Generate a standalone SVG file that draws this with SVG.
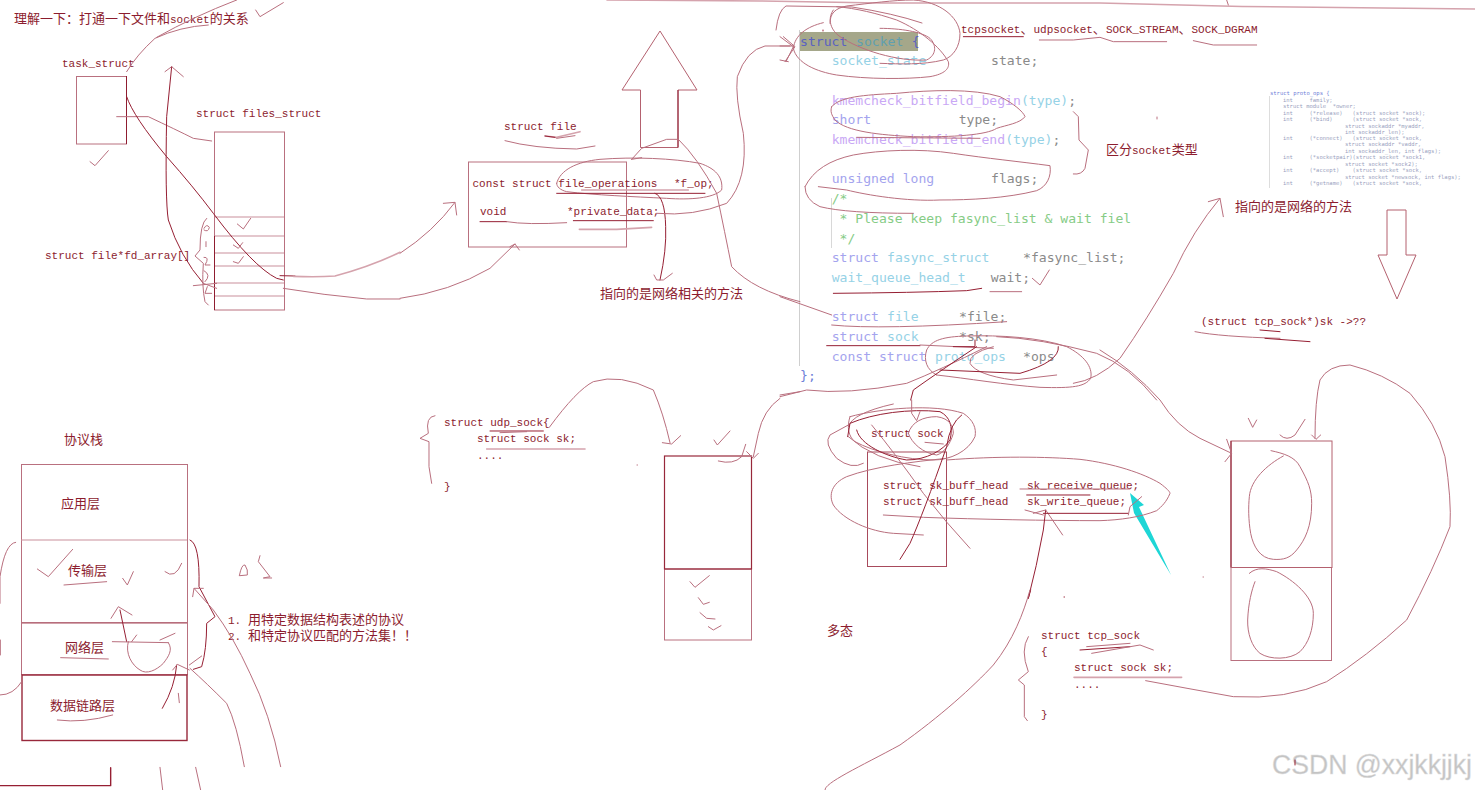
<svg xmlns="http://www.w3.org/2000/svg" width="1475" height="790" viewBox="0 0 1475 790">
<style>
text{white-space:pre}
.m{font-family:"Liberation Mono","DejaVu Sans Mono",monospace;font-size:11px;fill:#8c1c2e}
.c{font-family:"Noto Sans CJK SC","Noto Sans",sans-serif;font-size:13px;fill:#8c1c2e}
.k{font-family:"DejaVu Sans Mono",monospace;font-size:13.1px;fill:#8a8a8a}
.kw{fill:#a4a4ee}.ty{fill:#96d2e6}.fn{fill:#c9a8f5}.cm{fill:#86cc86}
.p{font-family:"DejaVu Sans Mono",monospace;font-size:5.5px;fill:#9a9fbe}
.b{fill:none;stroke:#b9707f;stroke-width:1}
.l{stroke:#c98f9b;stroke-width:1;fill:none}
path{fill:none;stroke:#b96f7e;stroke-width:1;stroke-linejoin:round;stroke-linecap:round;vector-effect:non-scaling-stroke}
path.h{stroke:#d5a3ad;stroke-width:1.6}
path.r{stroke:#961f33;stroke-width:1}
polygon.a{fill:#fff;stroke:#b4616f;stroke-width:1}
</style>
<rect width="1475" height="790" fill="#fff"/>

<g id="title"><text class="c" x="14" y="23">理解一下：打通一下文件和<tspan class="m">socket</tspan>的关系</text></g>
<g id="task-struct"><text class="m" x="62" y="67">task_struct</text><rect class="b" x="76.5" y="76.5" width="50" height="67.5"/><line x1="126.5" y1="76" x2="126.5" y2="144" stroke="#8f1d30"/></g>
<g id="files-struct"><text class="m" x="196" y="117">struct files_struct</text><rect class="b" x="214.5" y="132" width="70" height="178"/>
<line class="l" x1="215" y1="217" x2="284" y2="217"/><line class="l" x1="215" y1="236" x2="284" y2="236"/><line class="l" x1="215" y1="253" x2="284" y2="253"/><line class="l" x1="215" y1="266" x2="284" y2="266"/><line class="l" x1="215" y1="283" x2="284" y2="283"/><line class="l" x1="215" y1="296" x2="284" y2="296"/>
<line x1="214.5" y1="236" x2="214.5" y2="310" stroke="#8f1d30"/></g>
<g id="fd-array"><text class="m" x="45" y="259">struct file*fd_array[]</text></g>
<g id="struct-file"><text class="m" x="504" y="130">struct file</text><rect class="b" x="468.5" y="162" width="158" height="85"/>
<text class="m" x="472.5" y="187">const struct file_operations<tspan x="674">*f_op;</tspan></text><text class="m" x="480" y="215">void</text><text class="m" x="567" y="215">*private_data;</text></g>
<g id="up-arrow"><polygon class="a" points="660,31 697,90 678,90 678,147.5 640.5,147.5 640.5,90 622,90"/><line x1="678" y1="90" x2="678" y2="147.5" stroke="#8f1d30"/></g>
<g id="file-note"><text class="c" x="600" y="298">指向的是网络相关的方法</text></g>

<g id="socket-code">
<rect x="799" y="32" width="119" height="19" fill="#a5a78a"/>
<line x1="799.5" y1="30" x2="799.5" y2="366" stroke="#cfcfcf"/><line x1="831.5" y1="198" x2="831.5" y2="248" stroke="#d8d8d8"/>
<text class="k" y="46"><tspan x="800" style="fill:#5a62c0">struct</tspan><tspan x="856" style="fill:#5f9fb0">socket</tspan><tspan x="911.7" style="fill:#5a62c0">{</tspan></text>
<text class="k" y="65"><tspan x="831.7" class="ty">socket_state</tspan><tspan x="991">state;</tspan></text>
<text class="k" y="105"><tspan x="831.7" class="fn">kmemcheck_bitfield_begin</tspan><tspan class="ty">(type)</tspan>;</text>
<text class="k" y="124"><tspan x="831.7" class="kw">short</tspan><tspan x="958.7">type;</tspan></text>
<text class="k" y="144"><tspan x="831.7" class="fn">kmemcheck_bitfield_end</tspan><tspan class="ty">(type)</tspan>;</text>
<text class="k" y="183"><tspan x="831.7" class="kw">unsigned long</tspan><tspan x="991">flags;</tspan></text>
<text class="k cm" y="203" x="831.7">/*</text><text class="k cm" y="223" x="831.7"> * Please keep fasync_list &amp; wait fiel</text><text class="k cm" y="243" x="831.7"> */</text>
<text class="k" y="262"><tspan x="831.7" class="kw">struct</tspan><tspan x="887" class="ty">fasync_struct</tspan><tspan x="1023">*fasync_list;</tspan></text>
<text class="k" y="282"><tspan x="831.7" class="ty">wait_queue_head_t</tspan><tspan x="990.7">wait;</tspan></text>
<text class="k" y="321"><tspan x="831.7" class="kw">struct</tspan><tspan x="887" class="ty">file</tspan><tspan x="959">*file;</tspan></text>
<text class="k" y="341"><tspan x="831.7" class="kw">struct</tspan><tspan x="887" class="ty">sock</tspan><tspan x="959">*sk;</tspan></text>
<text class="k" y="361"><tspan x="831.7" class="kw">const struct</tspan><tspan x="935" class="ty">proto_ops</tspan><tspan x="1023">*ops</tspan></text>
<text class="k" y="380" x="800" style="fill:#6f7fd8">};</text>
</g>
<g id="socket-types"><text class="m" x="961" y="33">tcpsocket<tspan class="c">、</tspan>udpsocket<tspan class="c">、</tspan>SOCK_STREAM<tspan class="c">、</tspan>SOCK_DGRAM</text><text class="c" x="1106" y="154">区分<tspan class="m">socket</tspan>类型</text></g>

<g id="proto-ops">
<line x1="1269.5" y1="96" x2="1269.5" y2="188" stroke="#ddd"/>
<text class="p" x="1270" y="95" style="fill:#6f7fd8">struct proto_ops {</text>
<text class="p" x="1283" y="101.5">int     family;</text>
<text class="p" x="1283" y="108">struct module  *owner;</text>
<text class="p" x="1283" y="114.5">int     (*release)   (struct socket *sock);</text>
<text class="p" x="1283" y="121">int     (*bind)      (struct socket *sock,</text>
<text class="p" x="1345" y="127.5">struct sockaddr *myaddr,</text>
<text class="p" x="1345" y="134">int sockaddr_len);</text>
<text class="p" x="1283" y="140">int     (*connect)   (struct socket *sock,</text>
<text class="p" x="1345" y="146">struct sockaddr *vaddr,</text>
<text class="p" x="1345" y="152.5">int sockaddr_len, int flags);</text>
<text class="p" x="1283" y="159">int     (*socketpair)(struct socket *sock1,</text>
<text class="p" x="1345" y="165.5">struct socket *sock2);</text>
<text class="p" x="1283" y="172">int     (*accept)    (struct socket *sock,</text>
<text class="p" x="1345" y="178.5">struct socket *newsock, int flags);</text>
<text class="p" x="1283" y="185">int     (*getname)   (struct socket *sock,</text>
</g>
<g id="net-note"><text class="c" x="1235" y="211">指向的是网络的方法</text></g>
<g id="down-arrow"><polygon class="a" points="1397,299 1416,255 1406,255 1406,210 1387,210 1387,255 1378,255"/></g>
<g id="cast-note"><text class="m" x="1201" y="325">(struct tcp_sock*)sk -&gt;??</text></g>

<g id="stack"><text class="c" x="64" y="444">协议栈</text>
<rect class="b" x="21.5" y="464.5" width="166" height="158"/><line class="l" x1="21" y1="540" x2="187" y2="540"/><line x1="21" y1="622.7" x2="187" y2="622.7" stroke="#b4616f" stroke-width="1.4"/>
<rect class="b" x="21.5" y="622.7" width="166" height="52"/><rect x="22" y="675" width="165" height="65.5" fill="none" stroke="#98283b" stroke-width="1.4"/>
<text class="c" x="61" y="508">应用层</text><text class="c" x="68" y="575">传输层</text><text class="c" x="65" y="652">网络层</text><text class="c" x="50" y="710">数据链路层</text></g>
<g id="stack-note"><text class="m" x="228" y="624">1.</text><text class="c" x="248" y="624">用特定数据结构表述的协议</text><text class="m" x="228" y="640">2.</text><text class="c" x="248" y="640">和特定协议匹配的方法集！！</text></g>

<g id="udp-sock"><text class="m" x="444" y="426">struct udp_sock{</text><text class="m" x="477" y="442">struct sock sk;</text><text class="m" x="477" y="459">....</text><text class="m" x="444" y="490">}</text></g>
<g id="udp-box"><rect class="b" x="664.5" y="569" width="87" height="71"/><rect x="664.5" y="456" width="87" height="113" fill="none" stroke="#98283b" stroke-width="1.2"/></g>
<g id="sock-box"><rect x="867.5" y="452" width="79" height="114.5" fill="none" stroke="#a84a5c"/>
<text class="m" x="871" y="437">struct sock</text><text class="m" x="883" y="489">struct sk_buff_head</text><text class="m" x="1027" y="489">sk_receive_queue;</text><text class="m" x="883" y="505">struct sk_buff_head</text><text class="m" x="1027" y="505">sk_write_queue;</text></g>
<g id="poly-note"><text class="c" x="827" y="635">多态</text></g>
<g id="tcp-sock"><text class="m" x="1041" y="639">struct tcp_sock</text><text class="m" x="1041" y="655">{</text><text class="m" x="1074" y="671">struct sock sk;</text><text class="m" x="1074" y="688">....</text><text class="m" x="1041" y="718">}</text></g>
<g id="tcp-box"><rect class="b" x="1231" y="567.5" width="100.5" height="93"/><rect x="1231" y="441" width="101" height="126.5" fill="none" stroke="#b4616f"/><line x1="1231" y1="441" x2="1231" y2="567" stroke="#8f1d30"/></g>
<g id="teal-arrow"><polygon points="1130,493 1144,505 1139,507 1171,575 1134,513" fill="#1ed6d6"/></g>
<g id="watermark"><text x="1272" y="774" font-family="Liberation Sans,sans-serif" font-size="27" textLength="200" lengthAdjust="spacingAndGlyphs" fill="#c4c4c4" stroke="#e0e0e0" stroke-width=".4">CSDN @xxjkkjjkj</text></g>

<g id="connectors">
<path class="h" d="M607 0 L760 1 L880 3 L1100 3 L1242 6.5 L1475 9"/>
<path class="r" d="M1295 760 L1295 765"/><path class="r" d="M1064 597 L1064.5 597"/><path d="M637 465 L637.5 465"/><path class="r" d="M823 30 L823 31"/><path d="M1157 117 L1157 119"/><path d="M1203 577 L1203.5 577"/>
<g id="ink-topleft" transform="scale(.33333)">
<path d="M380 215 Q410 165 465 115 Q540 80 625 75"/><path d="M470 112 Q580 50 710 0"/>
<path d="M767 30 L780 50 L850 8"/>
<path d="M350 350 L445 350 Q530 390 580 415 L635 423"/>
<path class="r" d="M380 290 Q400 350 500 470 Q580 560 640 640 Q760 800 830 835 L850 840"/>
<path class="r" d="M610 850 Q540 770 505 660 Q495 600 500 350 L515 200"/><path d="M495 215 L515 200 L550 230"/>
<path d="M270 485 L285 497 L325 452"/><path d="M712 672 L730 687 L752 655"/><path d="M700 735 L715 745 L728 728"/><path d="M700 785 L715 790 L730 770"/>
<path d="M620 655 Q600 670 600 750 L585 768 L610 790 Q605 860 615 905 L625 915"/>
<path d="M612 685 Q620 670 628 682 Q625 698 612 690"/><path d="M618 725 L618 740"/><path d="M612 772 Q630 770 615 795 L630 795"/><path d="M612 812 Q635 825 615 845"/><path d="M622 860 L615 880 L635 880"/>
<path d="M580 857 L650 850"/><path d="M610 850 L650 865"/>
<path class="r" d="M840 827 L885 828"/><path class="h" d="M880 829 Q950 832 1005 828 Q1110 800 1200 757"/>
<path d="M850 865 Q970 885 1100 897 L1200 897"/>
</g>
<g id="ink-file" transform="translate(400,20) scale(.33333)">
<path d="M0 700 Q100 635 165 547"/><path d="M130 550 L165 547 L170 585"/>
<path d="M0 835 Q150 815 270 745 L345 672"/><path d="M330 680 L345 672 L358 690"/>
<path class="h" d="M435 348 L470 352 L540 335"/><path class="r" d="M435 348 L465 352"/><path d="M470 355 L525 347"/><path d="M315 362 Q400 385 530 387 L585 378"/>
<path d="M470 490 C480 450 530 425 600 418 C700 410 820 415 900 430 C945 445 970 470 965 510 C940 535 870 540 800 535 C700 530 580 525 500 515 C480 510 470 500 470 490"/>
<path class="r" d="M470 520 L915 520"/><path class="h" d="M545 510 L865 510"/>
<path class="r" d="M240 605 L320 605"/><path d="M320 605 Q380 615 500 608"/><path class="r" d="M520 602 L760 602"/><path class="h" d="M538 628 L650 628 L755 622"/>
<path class="r" d="M765 520 Q795 530 797 620 Q800 690 780 780"/><path d="M762 765 L770 780 L790 780 L817 760"/>
<path d="M695 418 L725 385 L800 358 L835 358 Q890 410 950 520 Q975 640 995 740 Q1060 810 1200 845"/><path d="M695 418 L725 413"/>
<path d="M770 580 Q880 590 980 550 Q1045 480 1030 340 Q1005 230 1012 170 Q1040 90 1095 78 L1170 78"/>
<path d="M1150 50 L1185 80 L1155 125"/>
</g>
<g id="ink-socket" transform="translate(780,0) scale(.33333)">
<path d="M-12 90 Q-5 30 18 18 L216 21 Q340 40 426 69"/>
<path d="M130 68 C80 80 45 105 40 145 C50 190 110 215 170 225 C260 238 380 238 450 230 C495 222 510 205 505 185 C480 140 420 90 350 60 C290 40 230 25 170 20"/>
<path d="M160 30 C145 50 145 85 180 110 C240 150 350 185 440 180 C470 165 470 135 450 115 C425 95 360 85 300 85"/>
<path d="M150 70 C150 40 165 25 200 18 C270 10 340 0 400 0 C480 5 535 50 540 100 C540 140 520 170 490 180 C430 195 360 192 300 190"/>
<path d="M0 110 L40 140 L18 185 M0 180 L25 185 M0 138 L40 138"/>
<path class="r" d="M550 110 L730 110"/><path d="M778 120 L880 120 L960 112 L1000 125 L1160 125"/><path d="M1240 122 L1300 135 L1430 135"/>
<path d="M155 320 C180 290 250 285 350 280 C450 270 580 265 660 290 C700 310 730 335 735 350 C720 370 680 375 650 385 C620 405 520 412 400 410 C300 405 200 395 165 360 C155 345 150 335 155 320"/>
<path d="M230 412 L600 415"/>
<path d="M75 560 C100 510 150 480 220 465 C300 450 420 445 520 460 C620 475 720 485 810 497 C815 530 800 560 770 572 C680 595 570 600 480 600 C380 605 260 585 200 570 L115 560"/><path d="M75 560 Q75 600 120 620 Q200 640 400 640"/>
<path d="M880 335 L895 350 L897 420 L925 450 L915 505 Q905 525 880 522"/>
<path class="r" d="M160 880 Q400 878 560 872 L605 865"/><path d="M630 875 L725 875"/><path d="M757 835 L780 855 L808 810"/>
<path d="M0 890 L155 945"/><path d="M155 975 Q300 990 680 965"/><path class="r" d="M140 1037 L420 1037"/><path d="M420 1035 L640 1045"/>
<path d="M470 1125 C440 1110 430 1080 440 1050 C455 1020 490 1010 560 1008 C660 1005 780 1012 860 1040 C910 1065 940 1100 932 1135 C915 1160 880 1165 780 1162 C680 1155 560 1135 470 1125"/>
<path d="M640 1040 Q565 1060 570 1090 Q590 1125 700 1140 L830 1125"/><path class="r" d="M835 1040 Q840 1085 720 1120 L480 1110"/><path class="r" d="M520 1040 L585 1040 L585 1020"/>
<path d="M880 1150 Q950 1140 1020 1075 Q1100 960 1180 820 Q1240 690 1320 595"/><path d="M1285 605 L1320 595 L1330 650"/>
<path d="M620 1040 Q480 1110 380 1150 Q200 1185 80 1170 L0 1190"/>
<path class="r" d="M590 1040 Q470 1120 400 1170 L392 1200"/>
<path d="M650 1010 Q780 1015 950 1060 Q1050 1100 1130 1200"/>
<path d="M1340 0 L1345 15"/>
<path d="M1245 995 Q1320 1010 1500 1015"/><path class="r" d="M1440 990 L1500 995"/><path class="r" d="M1455 1015 L1590 1025"/>
</g>
<g id="ink-udp" transform="translate(420,370) scale(.33333)">
<path d="M388 172 Q470 60 520 35 Q600 10 700 60 Q730 130 750 218"/><path d="M727 218 L755 222 L782 197"/>
<path d="M882 210 L892 225 L930 183"/><path d="M895 273 Q940 285 965 260 L977 223"/>
<path d="M1080 85 Q1030 120 1015 190 L1000 260"/><path d="M980 245 L1000 265 L1015 250"/>
<path d="M810 635 L825 652 L868 617"/><path d="M835 683 L850 703 L868 697"/><path d="M840 728 L860 745 L885 747"/><path d="M865 770 L880 780 L903 767"/>
<path class="r" d="M210 183 L370 183"/><path d="M240 188 L320 185"/><path class="h" d="M200 237 L495 237"/>
<path d="M45 137 Q15 140 25 190 L0 205 L27 215 L27 290 L35 340"/>
</g>
<g id="ink-sock" transform="translate(780,380) scale(.33333)">
<path d="M0 45 L60 35"/>
<path d="M205 140 Q215 100 340 72"/>
<path d="M210 110 C300 85 460 70 550 100 C580 120 590 145 585 170 C565 215 510 240 460 240 C380 240 280 215 225 185 C205 170 200 140 210 110"/>
<path class="r" d="M230 150 C240 195 320 230 380 240 C440 240 490 210 510 180 C520 140 510 110 480 95 C390 85 280 100 210 130 L203 170"/>
<path d="M385 160 C395 125 430 110 470 110 C510 115 520 140 520 160 C510 195 490 220 470 225 C430 220 395 190 385 160"/>
<path d="M250 250 Q215 270 170 235 Q130 190 150 165 L205 135"/>
<path d="M205 170 Q280 240 420 260"/>
<path d="M500 240 C650 228 800 230 900 238 C1000 250 1090 280 1140 310 C1160 325 1170 335 1170 340 C1160 365 1145 380 1130 392 C1080 412 1020 420 960 422 C800 422 600 418 430 412 L310 405"/>
<path d="M500 235 C400 245 280 260 200 290 C155 310 145 345 160 375 C190 420 270 455 340 460 L430 465"/>
<path d="M275 135 Q345 220 430 340 Q500 430 570 505"/>
<path class="r" d="M545 105 Q510 130 500 200 Q430 400 390 490 L360 538"/>
<path class="r" d="M745 655 Q770 560 790 450 L797 390"/><path d="M760 400 L797 390 L848 465"/>
<path d="M720 327 L1050 327"/><path class="r" d="M740 345 L930 345"/><path d="M735 390 L790 405"/><path class="r" d="M790 400 L1045 400"/><path d="M1045 405 L1050 380 L1085 350"/><path d="M435 187 L490 192"/>
<path d="M395 60 L395 100 L410 122 L420 95"/>
<path class="r" d="M745 655 L752 630"/>
<path d="M750 630 C730 700 700 780 640 855 C580 920 480 1010 360 1095 C240 1160 130 1210 135 1230"/>
</g>
<g id="ink-tcp" transform="translate(1000,350) scale(.33333)">
<path d="M300 0 Q400 60 480 150 Q530 230 600 265 L695 310"/><path d="M680 268 L695 310 L675 335"/>
<path d="M945 265 Q945 150 960 90 Q985 45 1050 45 Q1150 70 1230 130 Q1310 220 1335 320 Q1355 450 1350 530 Q1300 660 1220 810 Q1100 920 980 995 Q860 1050 700 1040 Q560 1015 437 992"/><path d="M935 255 L948 268 L962 255"/>
<path d="M745 205 L758 232 L770 210"/><path d="M840 255 Q860 275 885 255 L915 208"/>
<path d="M813 302 C850 310 885 320 900 350 C925 395 935 420 935 460 C935 530 915 570 890 600 C870 625 850 630 820 628 C780 625 760 590 752 550 C745 510 745 470 748 440 C752 390 800 345 850 318"/>
<path d="M748 670 C770 650 800 655 830 665 C880 690 940 740 940 790 C940 840 925 880 900 905 C870 930 810 930 780 910 C755 890 742 850 743 810 C745 760 755 720 765 695"/>
<path class="h" d="M222 982 L545 982"/><path class="r" d="M240 900 L390 890"/><path d="M275 910 L420 885 L460 900"/><path d="M260 890 L390 880"/>
<path d="M85 860 Q60 900 85 965 L55 990 L73 1005 L73 1100 L82 1112"/>
</g>
<g id="ink-stack" transform="translate(0,420) scale(.33333)">
<path d="M192 495 L320 485"/><path d="M182 713 L325 717"/><path d="M172 900 Q250 910 338 885"/>
<path d="M112 447 L145 470 L218 388"/><path d="M368 475 L382 495 L400 455"/><path d="M495 455 Q525 480 545 430"/>
<path class="r" d="M380 665 L360 570"/><path d="M333 595 L355 560 L396 585"/>
<path d="M337 665 L505 668"/><path d="M505 668 C520 690 505 710 490 730 C470 750 440 765 420 750 C395 735 375 700 385 665"/><path d="M395 665 L410 645"/><path d="M480 660 L525 640"/>
<path class="r" d="M487 865 Q525 800 530 735"/><path d="M518 750 L532 733 L568 750"/><path d="M535 820 L538 848"/>
<path d="M733 1040 Q710 910 680 850 Q620 790 570 745"/>
<path class="r" d="M570 360 Q600 370 597 500 L645 590 L620 610 Q620 690 605 740 L580 748"/><path d="M568 735 L605 708"/>
<path d="M842 1040 Q810 880 750 760 Q700 650 640 570 L582 505"/><path d="M578 530 L582 505 L610 505"/>
<path d="M47 367 Q15 370 0 470 L0 550"/><path d="M1 660 L1 705"/><path d="M0 825 Q40 825 65 785"/>
<path d="M718 467 Q725 432 735 435 Q745 450 742 465 L720 467"/><path d="M780 407 L775 425 L810 470 L790 474 L815 474"/>
<path class="r" d="M332 1043 L332 1097 L0 1097" style="stroke-width:1.4"/><path d="M480 1042 L488 1110"/><path d="M587 1042 L602 1110"/>
</g>
</g>
</svg>
